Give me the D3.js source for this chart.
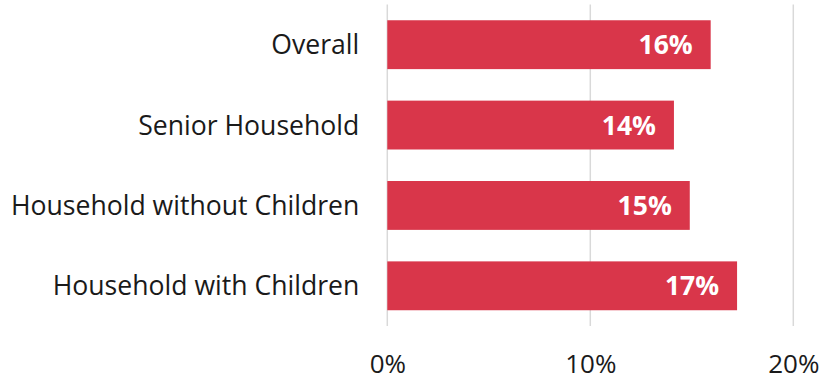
<!DOCTYPE html>
<html>
<head>
<meta charset="utf-8">
<script src="https://cdn.jsdelivr.net/npm/d3@7"></script>
<style>
  html, body { margin: 0; padding: 0; background: #fff; }
  svg { display: block; }
  text { font-family: "Open Sans", "Noto Sans", sans-serif; }
</style>
</head>
<body>
<svg id="chart" width="839" height="381"></svg>
<script>
// Share of households, by household type (percent)
const categories = ["Overall", "Senior Household", "Household without Children", "Household with Children"];
const values = [15.93, 14.12, 14.9, 17.23];
const xTicks = [0, 10, 20];

const width = 839, height = 381;
const margin = { left: 387.3, right: 45.7, top: 4.5, bottom: 55 };

const svg = d3.select("#chart");

const x = d3.scaleLinear()
  .domain([0, 20])
  .range([margin.left, width - margin.right]);

const y = d3.scaleBand()
  .domain(categories)
  .range([margin.top, height - margin.bottom])
  .paddingInner(0.392)
  .paddingOuter(0.196);

// vertical gridlines
svg.append("g")
  .selectAll("line")
  .data(xTicks)
  .join("line")
  .attr("x1", d => x(d))
  .attr("x2", d => x(d))
  .attr("y1", margin.top)
  .attr("y2", height - margin.bottom)
  .attr("stroke", "#d9d9d9")
  .attr("stroke-width", 1.5);

// x axis tick labels
const xAxis = d3.axisBottom(x)
  .tickValues(xTicks)
  .tickFormat(d => d + "%")
  .tickSize(0)
  .tickPadding(0);

svg.append("g")
  .attr("transform", `translate(0,${height - 17})`)
  .call(xAxis)
  .call(g => g.select(".domain").remove())
  .call(g => g.selectAll("text")
    .attr("dy", "0.35em")
    .attr("font-size", 26)
    .attr("font-family", "'Open Sans', sans-serif")
    .attr("fill", "#1a1a1a"));

// bars
svg.append("g")
  .selectAll("rect")
  .data(values)
  .join("rect")
  .attr("x", x(0))
  .attr("y", (d, i) => y(categories[i]))
  .attr("width", d => x(d) - x(0))
  .attr("height", y.bandwidth())
  .attr("fill", "#d9364a");

// category labels
svg.append("g")
  .selectAll("text")
  .data(categories)
  .join("text")
  .attr("x", x(0) - 28)
  .attr("y", d => y(d) + y.bandwidth() / 2)
  .attr("dy", "0.36em")
  .attr("text-anchor", "end")
  .attr("font-size", 26.6)
  .attr("fill", "#1a1a1a")
  .text(d => d);

// value labels inside the bars
const fmt = d => Math.round(d) + "%";
svg.append("g")
  .selectAll("text")
  .data(values)
  .join("text")
  .attr("x", d => x(d) - 18)
  .attr("y", (d, i) => y(categories[i]) + y.bandwidth() / 2)
  .attr("dy", "0.36em")
  .attr("text-anchor", "end")
  .attr("font-size", 26.5)
  .attr("font-weight", "bold")
  .attr("fill", "#ffffff")
  .text(fmt);
</script>
</body>
</html>
